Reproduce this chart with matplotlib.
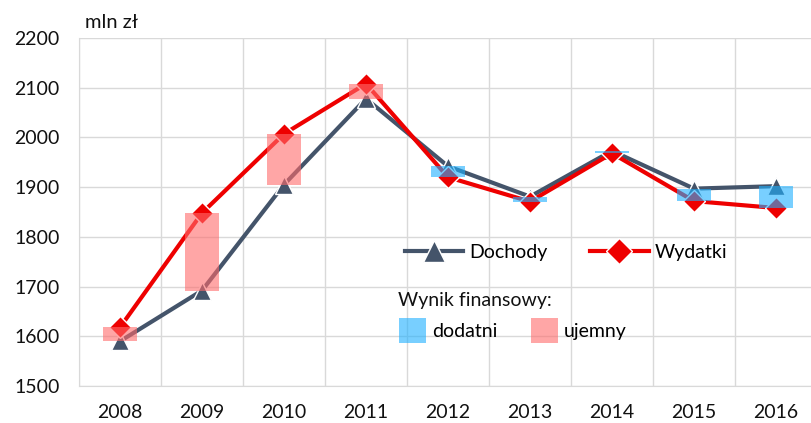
import matplotlib.pyplot as plt
from matplotlib.patches import Patch
from matplotlib.lines import Line2D
import numpy as np

plt.rcParams['font.family'] = ['Lato', 'DejaVu Sans']

lata = ['2008', '2009', '2010', '2011', '2012', '2013', '2014', '2015', '2016']
dochody = [1590, 1692, 1905, 2078, 1942, 1881, 1973, 1897, 1902]
wydatki = [1618, 1848, 2007, 2108, 1920, 1871, 1968, 1872, 1858]

c_doch = '#44546A'
c_wyd = '#EE0000'
c_plus = '#1FB0FF'
c_minus = '#FF6B6B'

fig = plt.figure(figsize=(8.11, 4.23), dpi=100)
ax = fig.add_axes([79/811, 1-386/423, 738/811, 348/423])

x = np.arange(len(lata))
d = np.array(dochody)
w = np.array(wydatki)

ax.plot(x, d, color=c_doch, lw=3, marker='^', ms=13, mec='white', mew=1, zorder=3)
ax.plot(x, w, color=c_wyd, lw=3, marker='D', ms=11, mec='white', mew=1, zorder=3)

low = np.minimum(d, w)
diff = np.abs(d - w)
kolory = [c_plus if a > b else c_minus for a, b in zip(d, w)]
ax.bar(x, diff, bottom=low, width=0.42, color=kolory, alpha=0.6, zorder=4)

ax.set_xlim(-0.5, len(lata) - 0.5)
ax.set_ylim(1500, 2200)
ax.set_yticks(np.arange(1500, 2201, 100))
ax.set_xticks(x)
ax.set_xticklabels(lata)
ax.set_xticks(np.arange(-0.5, len(lata), 1), minor=True)
ax.grid(axis='y', color='#D9D9D9', lw=1)
ax.grid(axis='x', which='minor', color='#D9D9D9', lw=1)
ax.set_axisbelow(True)
ax.tick_params(which='both', length=0, labelsize=14, colors='#111111')
ax.tick_params(axis='y', pad=14)
ax.tick_params(axis='x', pad=13)
for s in ['top', 'right']:
    ax.spines[s].set_visible(False)
for s in ['left', 'bottom']:
    ax.spines[s].set_color('#D9D9D9')

fig.text(85/811, 1-22/423, 'mln zł', fontsize=14.5, va='center', color='#111111')

linie = [Line2D([], [], color=c_doch, lw=3, marker='^', ms=16, mec='white'),
         Line2D([], [], color=c_wyd, lw=3, marker='D', ms=13, mec='white')]
leg1 = ax.legend(linie, ['Dochody', 'Wydatki'], ncol=2, frameon=False, fontsize=14,
                 handlelength=3.0, columnspacing=2.2, handletextpad=0.3,
                 loc='center left', bbox_to_anchor=(0.418, 0.385))
ax.add_artist(leg1)

fig.text(398/811, 1-300/423, 'Wynik finansowy:', fontsize=14, va='center', color='#111111')
latki = [Patch(facecolor=c_plus, alpha=0.6), Patch(facecolor=c_minus, alpha=0.6)]
ax.legend(latki, ['dodatni', 'ujemny'], ncol=2, frameon=False, fontsize=14,
          handlelength=1.4, handleheight=1.6, columnspacing=1.7, handletextpad=0.3,
          loc='center left', bbox_to_anchor=(0.41, 0.16))

plt.savefig('out.png', dpi=100)
